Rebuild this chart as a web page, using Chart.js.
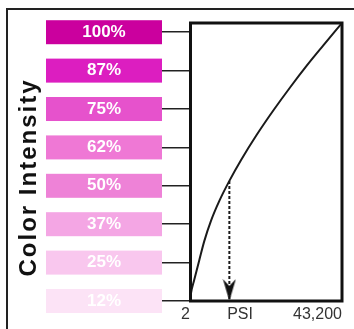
<!DOCTYPE html>
<html>
<head>
<meta charset="utf-8">
<script src="https://cdn.jsdelivr.net/npm/chart.js@4/dist/chart.umd.min.js"></script>
<style>
  html, body { margin: 0; padding: 0; background: #fff; overflow: hidden; }
  #wrap { position: relative; width: 354px; height: 329px; }
  #frame { position: absolute; left: 6px; top: 8px; width: 400px; height: 400px;
           border-top: 2px solid #222; border-left: 2px solid #222; }
  canvas { position: absolute; left: 0; top: 0; }
</style>
</head>
<body>
<div id="wrap">
  <div id="frame"></div>
  <canvas id="c" width="354" height="329"></canvas>
</div>
<script>
// ---- data ----
const intensityValues = [12.5, 25, 37.5, 50, 62.5, 75, 87.5, 100];
const intensityLabels = ['12%', '25%', '37%', '50%', '62%', '75%', '87%', '100%'];
const psiValues       = [2, 290, 1210, 2640, 4060, 5960, 8340, 11190, 14520, 18970, 23670, 28430, 33180, 37890, 43200];
const intensityCurve  = [12.5, 15.1, 19.4, 25.8, 32.0, 38.6, 45.1, 51.6, 58.4, 66.6, 74.5, 82.0, 89.1, 95.7, 103];
const arrowPsi        = [11190, 11190];
const arrowIntensity  = [51.6, 12.5];
const xTickValues     = [2, 17900, 43200];
const xTickLabels     = ['2', 'PSI', '43,200'];
const yTitle          = 'Color Intensity';

// ---- styles ----
const swatchColors = ['#FCE3F6', '#F9C7EE', '#F4A6E4', '#EE82D7', '#EF78D5', '#E652CC', '#DC1EC0', '#CB009E'];
const FONT = '"Liberation Sans", Arial, sans-serif';
const LABEL_SIZE = 17;
const labelFont = { family: FONT, size: LABEL_SIZE, weight: 'bold' };
const TICK_LEN = 28;
const SWATCH_LEFT = 46, SWATCH_H = 24;
const Y_AXIS_W = 190;

// measure widest y label to center labels inside swatches
const mctx = document.createElement('canvas').getContext('2d');
mctx.font = 'bold ' + LABEL_SIZE + 'px ' + FONT;
const widest = Math.max(...intensityLabels.map(t => mctx.measureText(t).width));
const swatchRight = Y_AXIS_W - TICK_LEN;
const swatchCenter = (SWATCH_LEFT + swatchRight) / 2;
const yLabelPad = swatchRight - swatchCenter - widest / 2;

// arrowhead marker (tip at image centre)
const arrowImg = document.createElement('canvas');
arrowImg.width = 14; arrowImg.height = 46;
(function () {
  const g = arrowImg.getContext('2d');
  g.fillStyle = '#111';
  g.beginPath();
  g.moveTo(7, 23);
  g.lineTo(13.5, 1);
  g.lineTo(7, 8);
  g.lineTo(0.5, 1);
  g.closePath();
  g.fill();
})();

const swatchPlugin = {
  id: 'swatches',
  beforeDraw(chart) {
    const y = chart.scales.y, ctx = chart.ctx;
    ctx.save();
    y.ticks.forEach((t, i) => {
      const py = y.getPixelForTick(i);
      ctx.fillStyle = swatchColors[i];
      ctx.fillRect(SWATCH_LEFT, py - SWATCH_H / 2, swatchRight - SWATCH_LEFT, SWATCH_H);
    });
    // rotated y title
    ctx.translate(36, 177.5);
    ctx.rotate(-Math.PI / 2);
    ctx.font = 'bold 24px ' + FONT;
    ctx.letterSpacing = '2px';
    ctx.fillStyle = '#111';
    ctx.textAlign = 'center';
    ctx.textBaseline = 'alphabetic';
    ctx.fillText(yTitle, 0, 0);
    ctx.restore();
  },
  afterDatasetsDraw(chart) {
    const a = chart.chartArea, ctx = chart.ctx;
    ctx.save();
    ctx.strokeStyle = '#111';
    ctx.lineWidth = 3;
    ctx.strokeRect(a.left + 0.5, a.top, a.right - a.left - 0.5, a.bottom - a.top);
    ctx.restore();
  }
};

new Chart(document.getElementById('c'), {
  type: 'line',
  data: {
    datasets: [
      {
        data: psiValues.map((x, i) => ({ x, y: intensityCurve[i] })),
        borderColor: '#1a1a1a',
        borderWidth: 2,
        pointRadius: 0,
        cubicInterpolationMode: 'monotone',
        fill: false
      },
      {
        data: arrowPsi.map((x, i) => ({ x, y: arrowIntensity[i] })),
        borderColor: '#1a1a1a',
        borderWidth: 2,
        borderDash: [3, 2],
        pointRadius: [0, 6],
        pointStyle: ['circle', arrowImg],
        clip: false,
        fill: false
      }
    ]
  },
  options: {
    responsive: false,
    animation: false,
    devicePixelRatio: 1,
    layout: { padding: { top: 23, right: 12, left: 0, bottom: 0 } },
    plugins: { legend: { display: false }, tooltip: { enabled: false } },
    scales: {
      x: {
        type: 'linear',
        min: 2, max: 43200,
        afterBuildTicks: s => { s.ticks = xTickValues.map(v => ({ value: v })); },
        afterFit: s => { s.height = 28; s.paddingLeft = 0; s.paddingRight = 0; },
        grid: { display: false, drawTicks: false },
        border: { display: false },
        ticks: {
          autoSkip: false, maxRotation: 0, align: 'end', padding: 4,
          color: '#333',
          font: { family: FONT, size: 16 },
          callback: (v, i) => xTickLabels[i]
        }
      },
      y: {
        type: 'linear',
        min: 12.5, max: 103,
        afterBuildTicks: s => { s.ticks = intensityValues.map(v => ({ value: v })); },
        afterFit: s => { s.width = Y_AXIS_W; s.paddingTop = 0; s.paddingBottom = 0; },
        grid: { drawOnChartArea: false, drawTicks: true, tickLength: TICK_LEN, color: '#222', lineWidth: 1.5 },
        border: { display: false },
        ticks: {
          autoSkip: false, crossAlign: 'center', padding: yLabelPad,
          color: '#ffffff',
          font: labelFont,
          callback: (v, i) => intensityLabels[i]
        }
      }
    }
  },
  plugins: [swatchPlugin]
});
</script>
</body>
</html>
